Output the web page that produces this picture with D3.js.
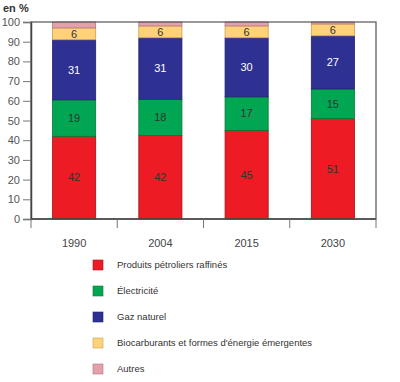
<!DOCTYPE html>
<html><head><meta charset="utf-8">
<script src="https://cdn.jsdelivr.net/npm/d3@7"></script>
<style>body{margin:0;background:#fff}svg{display:block}text{font-family:"Liberation Sans",Arial,sans-serif}</style>
</head><body><svg id="c" width="400" height="382"></svg>
<script>
const years = ["1990","2004","2015","2030"];
const seriesNames = ["Produits pétroliers raffinés","Électricité","Gaz naturel","Biocarburants et formes d'énergie émergentes","Autres"];
const petrole = [42, 42.4, 45, 51];
const electricite = [18.5, 18.4, 17, 15];
const gaz = [30.5, 31.2, 30, 27];
const bio = [6, 6, 6, 6];
const autres = [3, 2, 2, 1];
const yTicks = [0,10,20,30,40,50,60,70,80,90,100];
const colors = ["#ED1C24","#00A651","#2E3192","#FFD27A","#E3A1AA"];
const strokes = ["#a01218","#007a3a","#1f2270","#c9a050","#b07880"];
const labelColors = ["#333","#333","#fff","#333",null];

const keys = ["p","e","g","b","a"];
const rows = years.map((y,i)=>({year:y,p:petrole[i],e:electricite[i],g:gaz[i],b:bio[i],a:autres[i]}));
const stack = d3.stack().keys(keys)(rows);

const svg = d3.select("#c");
const L=31,R=376,T=22,B=219;
const x = d3.scaleBand().domain(years).range([L,R]).paddingInner(0.5).paddingOuter(0.25);
const y = d3.scaleLinear().domain([0,100]).range([B,T]);

// bars
stack.forEach((s,k)=>{
  const g = svg.append("g");
  g.selectAll("rect").data(s).join("rect")
    .attr("x",d=>x(d.data.year)).attr("width",x.bandwidth())
    .attr("y",d=>y(d[1])).attr("height",d=>y(d[0])-y(d[1]))
    .attr("fill",colors[k]).attr("stroke",strokes[k]).attr("stroke-width",0.8);
  if(labelColors[k]){
    g.selectAll("text").data(s).join("text")
      .attr("x",d=>x(d.data.year)+x.bandwidth()/2)
      .attr("y",d=>y((d[0]+d[1])/2)).attr("dy","0.35em")
      .attr("text-anchor","middle").attr("font-size",11)
      .attr("fill",labelColors[k])
      .text(d=>Math.round(d[1]-d[0]));
  }
});

// frame
svg.append("rect").attr("x",L).attr("y",T).attr("width",R-L).attr("height",B-T)
  .attr("fill","none").attr("stroke","#555").attr("stroke-width",1.2);

// y axis
const ya = svg.append("g").attr("transform",`translate(${L},0)`)
  .call(d3.axisLeft(y).tickValues(yTicks).tickSize(8).tickPadding(3));
ya.select(".domain").attr("stroke","#444").attr("stroke-width",1.5);
ya.selectAll(".tick line").attr("stroke","#777");
ya.selectAll(".tick text").attr("font-size",11).attr("fill","#555").style("font-family","Liberation Sans, Arial");

// x axis: ticks at band boundaries, labels at centers
const xa = svg.append("g").attr("transform",`translate(0,${B})`);
xa.append("line").attr("x1",L).attr("x2",R).attr("stroke","#444").attr("stroke-width",1.5);
const bounds = years.map(yr=>x(yr)-x.step()*x.paddingInner()/2).concat([R]);
bounds[0]=L;
xa.selectAll("line.t").data(bounds).join("line").attr("class","t")
  .attr("x1",d=>d).attr("x2",d=>d).attr("y1",0).attr("y2",9).attr("stroke","#777");
xa.selectAll("text").data(years).join("text")
  .attr("x",d=>x(d)+x.bandwidth()/2).attr("y",24).attr("dy","0.35em")
  .attr("text-anchor","middle").attr("font-size",11).attr("fill","#444").text(d=>d);

svg.append("text").attr("x",3).attr("y",12).attr("font-size",11).attr("font-weight","bold").attr("fill","#333").text("en %");

// legend
const lg = svg.append("g").selectAll("g").data(seriesNames).join("g")
  .attr("transform",(d,i)=>`translate(93,${260+i*26})`);
lg.append("rect").attr("width",10).attr("height",10).attr("fill",(d,i)=>colors[i]).attr("stroke",(d,i)=>strokes[i]).attr("stroke-width",0.6);
lg.append("text").attr("x",24).attr("y",5).attr("dy","0.35em").attr("font-size",9.5).attr("fill","#333").text(d=>d);
</script></body></html>
